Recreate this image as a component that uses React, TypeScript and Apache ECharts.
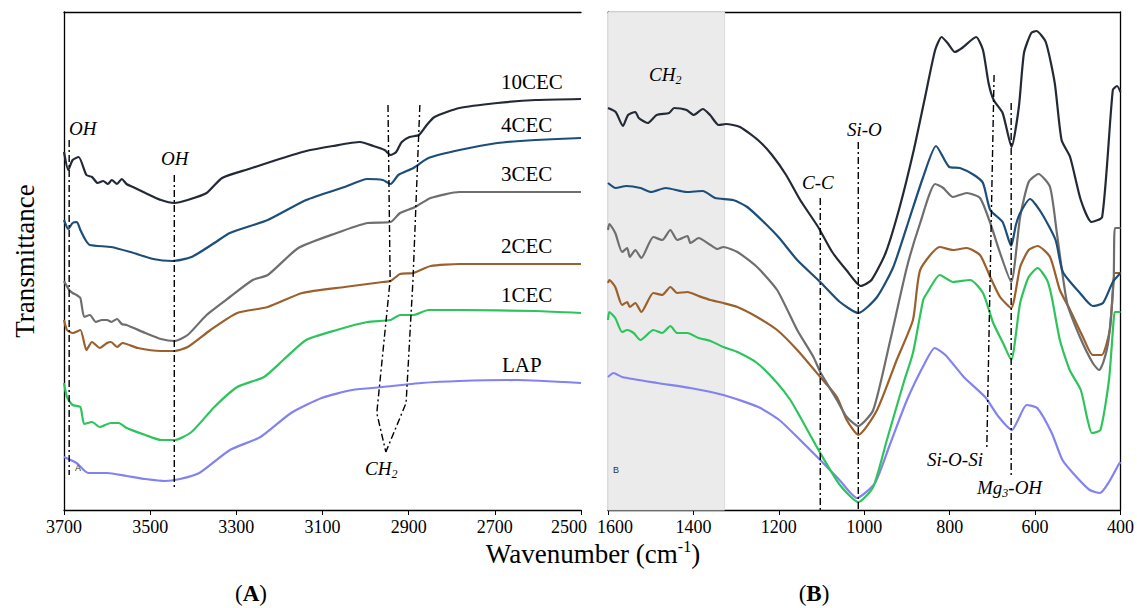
import React, { useEffect, useRef } from "react";
import * as echarts from "echarts";

type P = [number, number];

// ---------- Panel A (3700–2500 cm-1) ----------
const a10CEC: P[] = [[3700,358],[3690,340],[3680,350],[3666,353],[3648,335],[3635,333],[3622,327],[3609,329],[3598,326],[3589,330],[3577,326],[3566,331],[3555,326],[3540,323],[3511,317],[3475,310],[3444,307],[3413,310],[3369,317],[3333,332],[3271,341],[3200,351],[3138,359],[3076,364],[3013,368],[2982,364],[2956,360],[2942,355],[2929,358],[2916,368],[2898,373],[2876,375],[2858,385],[2840,393],[2782,402],[2694,407],[2605,410],[2500,411]];
const a4CEC: P[] = [[3700,290],[3690,281],[3680,287],[3670,288],[3662,280],[3650,270],[3640,265],[3591,263],[3546,258],[3493,251],[3449,249],[3404,253],[3351,267],[3315,277],[3227,290],[3138,310],[3049,323],[2996,331],[2960,330],[2942,326],[2924,335],[2889,342],[2854,352],[2782,360],[2694,367],[2605,370],[2500,372]];
const a3CEC: P[] = [[3700,229],[3688,220],[3680,217],[3671,215],[3662,212],[3653,193],[3640,195],[3626,188],[3612,190],[3600,190],[3590,188],[3577,191],[3566,186],[3555,185],[3511,177],[3475,171],[3444,169],[3413,175],[3369,195],[3315,213],[3262,230],[3227,235],[3156,262],[3067,277],[2996,287],[2942,288],[2920,297],[2885,303],[2849,312],[2782,318],[2694,318],[2500,318]];
const a2CEC: P[] = [[3700,190],[3693,180],[3680,177],[3662,180],[3648,160],[3635,168],[3617,162],[3600,167],[3591,168],[3577,163],[3564,167],[3529,162],[3475,159],[3444,159],[3413,163],[3360,180],[3298,197],[3227,203],[3147,217],[3049,223],[2960,228],[2942,229],[2920,236],[2889,237],[2849,244],[2782,246],[2500,246]];
const a1CEC: P[] = [[3700,127],[3693,113],[3680,105],[3662,103],[3653,86],[3635,88],[3617,83],[3591,87],[3573,87],[3555,82],[3511,75],[3475,70],[3444,70],[3404,78],[3351,103],[3298,123],[3236,133],[3191,150],[3138,170],[3067,180],[2996,188],[2942,190],[2920,195],[2889,195],[2854,200],[2782,200],[2605,199],[2500,197]];
const aLAP: P[] = [[3700,53],[3671,47],[3644,37],[3600,37],[3555,34],[3511,31],[3466,29],[3431,31],[3386,37],[3315,60],[3244,73],[3173,97],[3102,112],[3031,120],[2960,123],[2871,127],[2782,129],[2649,130],[2500,127]];

// ---------- Panel B (1600–400 cm-1) ----------
const b10CEC: P[] = [[1600,402],[1582,398],[1565,384],[1553,395],[1536,398],[1528,392],[1507,387],[1486,395],[1457,397],[1445,402],[1416,400],[1399,395],[1378,401],[1361,395],[1341,385],[1324,386],[1291,383],[1249,370],[1216,355],[1183,335],[1150,310],[1108,283],[1075,258],[1042,240],[1008,224],[983,230],[950,257],[917,303],[884,360],[859,410],[834,460],[819,473],[805,467],[788,458],[771,462],[738,473],[722,460],[709,427],[697,410],[676,397],[655,363],[638,403],[626,457],[609,477],[597,479],[575,468],[554,427],[538,370],[518,353],[493,310],[468,288],[443,293],[418,420],[408,424],[400,418]];
const b4CEC: P[] = [[1600,327],[1582,322],[1557,324],[1524,322],[1499,318],[1465,322],[1416,318],[1378,319],[1349,312],[1307,310],[1274,303],[1233,287],[1199,272],[1157,250],[1103,228],[1057,208],[1014,197],[970,213],[932,243],[893,293],[862,333],[832,364],[801,343],[776,342],[743,335],[722,327],[705,300],[676,288],[656,264],[645,285],[635,297],[612,311],[585,297],[552,270],[535,238],[495,217],[465,204],[441,207],[418,228],[400,237]];
const b3CEC: P[] = [[1600,280],[1597,286],[1583,277],[1567,258],[1555,262],[1549,253],[1536,260],[1522,252],[1494,273],[1473,270],[1454,280],[1438,270],[1414,274],[1407,267],[1388,272],[1360,265],[1344,261],[1330,263],[1297,258],[1251,243],[1204,220],[1157,180],[1119,153],[1103,138],[1064,110],[1041,93],[1014,84],[979,100],[939,170],[900,243],[869,287],[834,326],[815,322],[792,313],[760,317],[729,312],[705,287],[682,257],[656,228],[635,293],[615,328],[592,336],[565,323],[549,277],[525,207],[495,173],[465,147],[450,140],[440,148],[428,170],[416,230],[413,282],[400,282]];
const b2CEC: P[] = [[1600,227],[1597,230],[1583,223],[1567,205],[1555,208],[1549,203],[1536,207],[1522,198],[1494,217],[1473,215],[1454,223],[1438,217],[1414,218],[1388,214],[1360,210],[1330,207],[1297,203],[1251,193],[1204,180],[1157,160],[1103,133],[1064,113],[1041,90],[1014,75],[970,100],[924,150],[886,190],[869,240],[823,263],[792,260],[760,262],[729,255],[705,233],[682,213],[656,202],[635,243],[615,260],[594,264],[565,253],[542,220],[518,200],[488,173],[465,155],[444,155],[425,180],[413,237],[400,237]];
const b1CEC: P[] = [[1600,190],[1597,198],[1583,192],[1567,178],[1555,180],[1540,177],[1524,170],[1494,180],[1473,177],[1454,184],[1438,177],[1414,177],[1388,172],[1360,169],[1330,163],[1297,158],[1251,147],[1204,127],[1173,110],[1150,93],[1103,57],[1057,25],[1014,8],[979,23],[947,70],[908,127],[886,157],[862,210],[853,217],[823,235],[792,228],[752,230],[722,217],[698,187],[675,167],[656,150],[635,207],[615,233],[594,242],[572,230],[561,213],[542,170],[519,140],[493,120],[477,90],[467,77],[447,80],[427,130],[416,190],[413,198],[400,198]];
const bLAP: P[] = [[1600,133],[1587,137],[1567,133],[1485,127],[1407,122],[1330,115],[1248,103],[1199,90],[1150,70],[1103,50],[1058,30],[1017,12],[975,27],[942,63],[900,110],[858,147],[835,162],[810,155],[767,133],[717,113],[685,93],[654,80],[640,90],[620,105],[595,102],[561,77],[536,50],[503,33],[472,20],[448,17],[427,28],[405,45],[400,48]];

const seriesNames = ["LAP", "1CEC", "2CEC", "3CEC", "4CEC", "10CEC"];
const seriesColors = ["#8282f0", "#2ec45c", "#9b602c", "#6e6e6e", "#1d4e7a", "#232a36"];
const panelA = [aLAP, a1CEC, a2CEC, a3CEC, a4CEC, a10CEC];
const panelB = [bLAP, b1CEC, b2CEC, b3CEC, b4CEC, b10CEC];

// band assignment guide lines (wavenumber, transmittance)
const guideOH1: P[] = [[3688, 370], [3688, 35]];
const guideOH2: P[] = [[3444, 335], [3444, 23]];
const guideCH2L: P[] = [[2948, 405], [2943, 230], [2974, 97], [2953, 58]];
const guideCH2R: P[] = [[2874, 405], [2890, 230], [2906, 107], [2953, 58]];
const guideCC: P[] = [[1103, 312], [1103, 0]];
const guideSiO: P[] = [[1014, 368], [1014, 0]];
const guideSiOSi: P[] = [[696, 435], [713, 63]];
const guideMgOH: P[] = [[656, 407], [656, 32]];
const ch2Band: [number, number] = [1600, 1327];

const SERIF = "Liberation Serif";

export default function App() {
  const ref = useRef<HTMLDivElement>(null);
  useEffect(() => {
    document.body.style.margin = "0";
    const chart = echarts.init(ref.current!, null, { renderer: "svg" });
    const dash = { color: "#000", width: 1.4, type: [7, 3, 2, 3] as any };
    const tickRich = {
      n: { fontFamily: SERIF, fontSize: 18, color: "#000" },
      r: { fontFamily: SERIF, fontSize: 18, color: "#000", padding: [0, 24, 0, 0] },
      l: { fontFamily: SERIF, fontSize: 18, color: "#000", padding: [0, 0, 0, 14] },
    };
    const fmt = (v: number) => (v === 2500 ? `{r|${v}}` : v === 1600 ? `{l|${v}}` : `{n|${v}}`);
    const xBase = (gi: number, min: number, max: number) => ({
      type: "value", gridIndex: gi, min, max, interval: 200, inverse: true,
      axisLine: { show: true, onZero: false, lineStyle: { color: "#000", width: 1.3 } },
      axisTick: { show: true, length: 5, lineStyle: { color: "#000" } },
      axisLabel: { fontFamily: SERIF, fontSize: 18, color: "#000", margin: 8, showMinLabel: true, showMaxLabel: true,
        formatter: fmt, rich: tickRich },
      splitLine: { show: false },
    });
    const xTop = (gi: number, min: number, max: number) => ({
      type: "value", gridIndex: gi, min, max, inverse: true, position: "top",
      axisLine: { show: true, onZero: false, lineStyle: { color: "#000", width: 1.3 } },
      axisTick: { show: false }, axisLabel: { show: false }, splitLine: { show: false },
    });
    const yBase = (gi: number, pos: string) => ({
      type: "value", gridIndex: gi, min: 0, max: 498, position: pos,
      axisLine: { show: true, onZero: false, lineStyle: { color: "#000", width: 1.3 } },
      axisTick: { show: false }, axisLabel: { show: false }, splitLine: { show: false },
    });
    const series: any[] = [];
    series.push({
      type: "line", xAxisIndex: 1, yAxisIndex: 1, data: [], silent: true, z: 1,
      markArea: { silent: true, itemStyle: { color: "#ebebeb", borderColor: "#dcdcdc", borderWidth: 1 },
        data: [[{ xAxis: ch2Band[0] }, { xAxis: ch2Band[1] }]] },
    });
    seriesNames.forEach((n, i) => {
      series.push({ name: n + " A", type: "line", xAxisIndex: 0, yAxisIndex: 0, data: panelA[i], showSymbol: false,
        smooth: 0.2, lineStyle: { color: seriesColors[i], width: 2.2 }, z: 3 });
      series.push({ name: n + " B", type: "line", xAxisIndex: 1, yAxisIndex: 1, data: panelB[i], showSymbol: false,
        smooth: 0.2, lineStyle: { color: seriesColors[i], width: 2.2 }, z: 3 });
    });
    [guideOH1, guideOH2, guideCH2L, guideCH2R].forEach((g) =>
      series.push({ type: "line", xAxisIndex: 0, yAxisIndex: 0, data: g, showSymbol: false, lineStyle: dash, z: 4 }));
    [guideCC, guideSiO, guideSiOSi, guideMgOH].forEach((g) =>
      series.push({ type: "line", xAxisIndex: 1, yAxisIndex: 1, data: g, showSymbol: false, lineStyle: dash, z: 4 }));

    const txt = (x: number, y: number, text: string, size: number, extra: any = {}) => ({
      type: "text", x, y, z: 10,
      style: { text, fill: "#000", fontFamily: SERIF, fontSize: size, textAlign: "left", align: "left",
        textVerticalAlign: "middle", verticalAlign: "middle", ...extra },
    });
    const sub = (x: number, y: number, main: string, s: string, tail = "") => ({
      type: "text", x, y, z: 10,
      style: {
        text: `{i|${main}}{s|${s}}` + (tail ? `{i|${tail}}` : ""),
        fill: "#000", align: "left", verticalAlign: "middle", textAlign: "left", textVerticalAlign: "middle",
        rich: {
          i: { fontFamily: SERIF, fontStyle: "italic", fontSize: 19, lineHeight: 24, fill: "#000", color: "#000" },
          s: { fontFamily: SERIF, fontStyle: "italic", fontSize: 12, lineHeight: 12, verticalAlign: "bottom", fill: "#000", color: "#000" },
        },
      },
    });
    const labelPos: Record<string, [number, number]> = {
      "10CEC": [501, 82], "4CEC": [501, 125], "3CEC": [501, 174], "2CEC": [501, 246], "1CEC": [501, 295], LAP: [502, 365],
    };
    const graphic: any[] = [
      ...Object.keys(labelPos).map((k) => txt(labelPos[k][0], labelPos[k][1], k, 21)),
      txt(69, 128, "OH", 19, { fontStyle: "italic" }),
      txt(161, 158, "OH", 19, { fontStyle: "italic" }),
      sub(365, 468, "CH", "2"),
      sub(649, 74, "CH", "2"),
      txt(802, 182, "C-C", 19, { fontStyle: "italic" }),
      txt(847, 129, "Si-O", 19, { fontStyle: "italic" }),
      txt(927, 459, "Si-O-Si", 19, { fontStyle: "italic" }),
      sub(977, 487, "Mg", "3", "-OH"),
      txt(75, 468, "A", 9, { fontFamily: "Liberation Sans", fill: "#333" }),
      txt(613, 470, "B", 9, { fontFamily: "Liberation Sans", fill: "#333" }),
      {
        type: "text", x: 25, y: 261, rotation: Math.PI / 2, z: 10,
        style: { text: "Transmittance", fill: "#000", fontFamily: SERIF, fontSize: 27, align: "center", verticalAlign: "middle",
          textAlign: "center", textVerticalAlign: "middle" },
      },
      {
        type: "text", x: 593, y: 554, z: 10,
        style: {
          text: "{a|Wavenumber (cm}{b|-1}{a|)}", fill: "#000", align: "center", verticalAlign: "middle",
          textAlign: "center", textVerticalAlign: "middle",
          rich: {
            a: { fontFamily: SERIF, fontSize: 27, lineHeight: 32, fill: "#000", color: "#000" },
            b: { fontFamily: SERIF, fontSize: 16, lineHeight: 16, verticalAlign: "top", fill: "#000", color: "#000" },
          },
        },
      },
      {
        type: "text", x: 251, y: 593, z: 10,
        style: { text: "{p|(}{b|A}{p|)}", align: "center", verticalAlign: "middle", textAlign: "center", textVerticalAlign: "middle",
          rich: { p: { fontFamily: SERIF, fontSize: 23, fill: "#000", color: "#000" }, b: { fontFamily: SERIF, fontSize: 23, fontWeight: "bold", fill: "#000", color: "#000" } } },
      },
      {
        type: "text", x: 814, y: 593, z: 10,
        style: { text: "{p|(}{b|B}{p|)}", align: "center", verticalAlign: "middle", textAlign: "center", textVerticalAlign: "middle",
          rich: { p: { fontFamily: SERIF, fontSize: 23, fill: "#000", color: "#000" }, b: { fontFamily: SERIF, fontSize: 23, fontWeight: "bold", fill: "#000", color: "#000" } } },
      },
    ];

    chart.setOption({
      animation: false,
      backgroundColor: "#fff",
      grid: [
        { left: 64, top: 12, width: 517, height: 498 },
        { left: 608, top: 12, width: 513, height: 498 },
      ],
      xAxis: [xBase(0, 2500, 3700), xBase(1, 400, 1600), xTop(0, 2500, 3700), xTop(1, 400, 1600)],
      yAxis: [yBase(0, "left"), yBase(1, "left"), yBase(1, "right")],
      series,
      graphic,
    } as any);
    return () => chart.dispose();
  }, []);
  return <div ref={ref} style={{ width: 1137, height: 608 }} />;
}
